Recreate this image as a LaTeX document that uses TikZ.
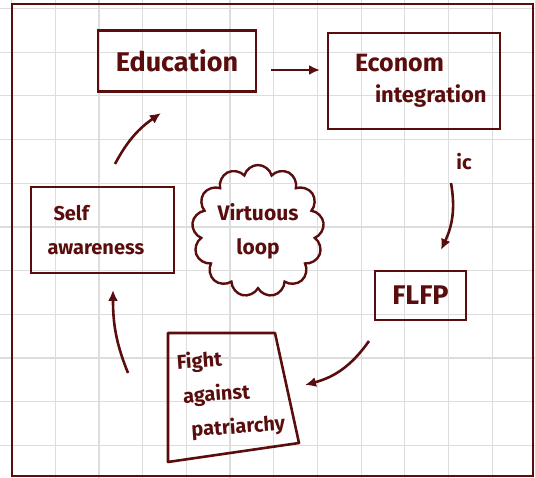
\documentclass[tikz,border=0pt]{standalone}
\usepackage{fontspec}
\setmainfont{Fira Sans}
\usepackage{tikz}
\usetikzlibrary{arrows.meta,shapes.symbols}
\definecolor{ink}{HTML}{5A0D0D}
\definecolor{gridgray}{HTML}{DDDDDD}

\tikzset{
  box/.style={draw=ink, line width=2.6pt, text=ink, inner sep=0pt},
  flow/.style={-{Latex[length=11pt,width=10pt]}, color=ink, line width=2.6pt},
  big/.style={font=\fontsize{27}{31}\selectfont\bfseries},
  small/.style={font=\fontsize{20}{34}\selectfont\bfseries},
}

\begin{document}
\begin{tikzpicture}[x=1pt,y=1pt]
  \useasboundingbox (0,0) rectangle (536,478);
  % grid paper
  \foreach \gx in {0,...,12}
    \draw[gridgray, line width=1.2pt] (11.5+43.7*\gx,0) -- (11.5+43.7*\gx,478);
  \foreach \gy in {0,...,10}
    \draw[gridgray, line width=1.2pt] (0,469.5-43.7*\gy) -- (536,469.5-43.7*\gy);
  \draw[ink, line width=2.8pt] (12,2) rectangle (533,474);

  \draw (177,417) node[box, big, minimum width=158pt, minimum height=61pt] (edu) {Education};
  \draw (414,397) node[box, font=\fontsize{25}{31}\selectfont\bfseries, minimum width=172pt, minimum height=96pt, align=left, text width=152pt] (econ) {\hspace*{17pt}Econom\\{\fontsize{22}{31}\selectfont\hspace*{37pt}integration}};
      \draw (464,316) node[small, text=ink] (ic) {ic};
  \draw (102.5,248) node[box, small, minimum width=143pt, minimum height=86pt, align=left, text width=110pt] (self) {\hspace*{6pt}Self\\awareness};
  \draw (258,247) node[cloud, draw=ink, line width=2.4pt, text=ink, font=\fontsize{21}{34}\selectfont\bfseries, cloud puffs=13, minimum width=131pt, minimum height=94pt, align=center, inner sep=0pt] (loop) {Virtuous\\loop};
  \draw (420.5,182.5) node[box, big, minimum width=91pt, minimum height=49pt] (flfp) {FLFP};

  % hand cut box
  \coordinate (fa) at (168,145);
  \coordinate (fb) at (275,145);
  \coordinate (fc) at (299,35);
  \coordinate (fd) at (168,16);
  \draw[ink, line width=2.6pt, line join=round] (fa) -- (fb) -- (fc) -- (fd) -- cycle;
      \draw (231,84) node[small, text=ink, align=left, rotate=4] (fight) {Fight\\\hspace*{4pt}against\\\hspace*{10pt}patriarchy};

  % arrow ends
  \coordinate (self-out) at (115,314);
  \coordinate (edu-in) at (161,365);
  \coordinate (edu-out) at (271,408);
  \coordinate (econ-in) at (320,408);
  \coordinate (econ-out) at (451,295);
  \coordinate (flfp-in) at (441,228);
  \coordinate (flfp-out) at (369,137);
  \coordinate (fight-in) at (305,93);
  \coordinate (fight-out) at (128,105);
  \coordinate (self-in) at (113,188);

    \draw[flow] (self-out) to[out=62,in=215] (edu-in);
    \draw[flow] (edu-out) -- (econ-in);
    \draw[flow] (econ-out) to[out=-80,in=65] (flfp-in);
    \draw[flow] (flfp-out) to[out=-125,in=15] (fight-in);
    \draw[flow] (fight-out) to[out=112,in=-90] (self-in);

\end{tikzpicture}
\end{document}
